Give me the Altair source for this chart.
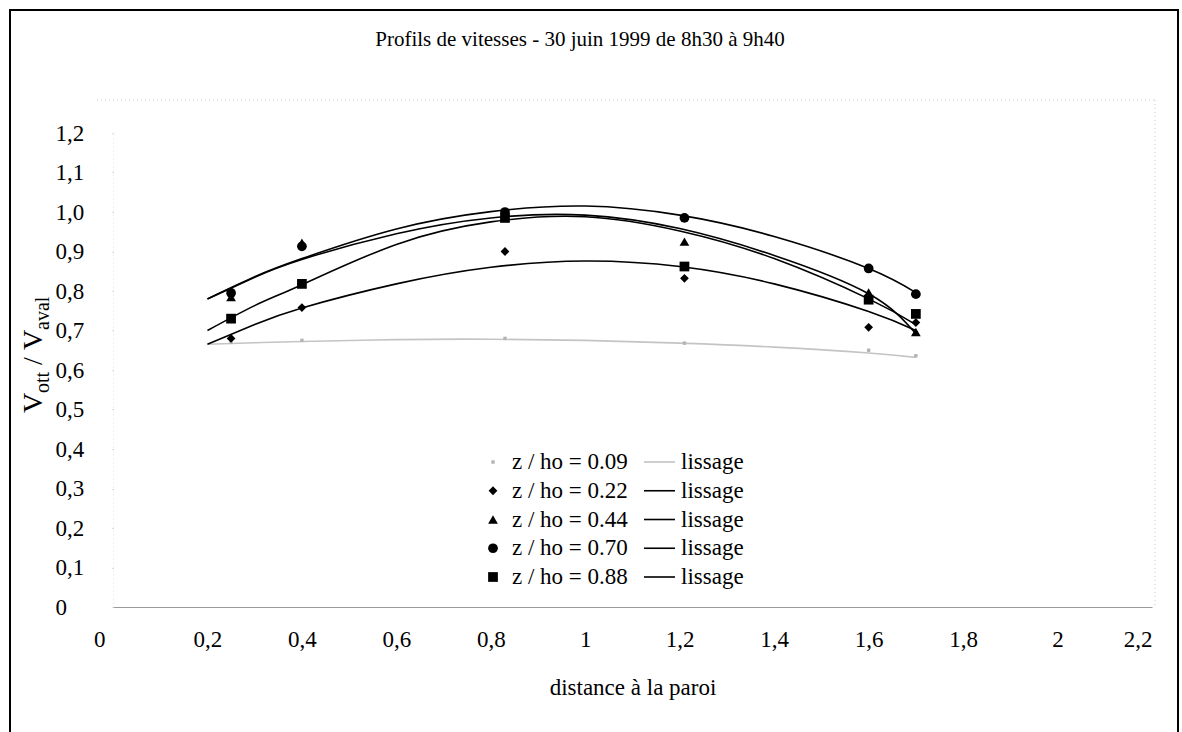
import altair as alt
import pandas as pd

# ---------------- data ----------------
x_vals = [0.25, 0.40, 0.83, 1.21, 1.60, 1.70]
series_names = ["z / ho = 0.09", "z / ho = 0.22", "z / ho = 0.44", "z / ho = 0.70", "z / ho = 0.88"]
v_009 = [0.670, 0.675, 0.680, 0.668, 0.650, 0.636]
v_022 = [0.680, 0.758, 0.900, 0.832, 0.708, 0.720]
v_044 = [0.785, 0.922, 0.990, 0.925, 0.796, 0.696]
v_070 = [0.795, 0.913, 1.000, 0.985, 0.857, 0.792]
v_088 = [0.730, 0.818, 0.985, 0.862, 0.778, 0.742]

# smoothing curves ("lissage")
curve_x = [0.2, 0.3, 0.4, 0.6, 0.8, 1.0, 1.2, 1.4, 1.6, 1.7]
c_009 = [0.665, 0.669, 0.672, 0.677, 0.678, 0.675, 0.668, 0.658, 0.643, 0.632]
c_022 = [0.665, 0.715, 0.757, 0.818, 0.860, 0.876, 0.862, 0.818, 0.748, 0.700]
c_044 = [0.780, 0.835, 0.880, 0.945, 0.985, 0.992, 0.958, 0.890, 0.793, 0.692]
c_070 = [0.780, 0.836, 0.882, 0.957, 1.001, 1.015, 0.992, 0.938, 0.857, 0.796]
c_088 = [0.700, 0.763, 0.816, 0.918, 0.975, 0.988, 0.952, 0.882, 0.780, 0.715]

x_ticks = [0, 0.2, 0.4, 0.6, 0.8, 1.0, 1.2, 1.4, 1.6, 1.8, 2.0, 2.2]
y_ticks = [0, 0.1, 0.2, 0.3, 0.4, 0.5, 0.6, 0.7, 0.8, 0.9, 1.0, 1.1, 1.2]
chart_title = ["Profils de vitesses - 30 juin 1999 de 8h30 à 9h40"]
x_title = "distance à la paroi"
fit_label = "lissage"

rows = []
for name, vals in zip(series_names, [v_009, v_022, v_044, v_070, v_088]):
    for xv, yv in zip(x_vals, vals):
        rows.append({"x": xv, "y": yv, "series": name})
df = pd.DataFrame(rows)

crows = []
for name, vals in zip(series_names, [c_009, c_022, c_044, c_070, c_088]):
    for xv, yv in zip(curve_x, vals):
        crows.append({"x": xv, "y": yv, "series": name})
cdf = pd.DataFrame(crows)

legend_df = pd.DataFrame({"series": series_names})

FONT = "Liberation Serif"
FS = 23
W, H = 1039, 474

shapes = ["M-0.35,-0.35L0.35,-0.35L0.35,0.35L-0.35,0.35Z",
          "M0,-0.9L0.9,0L0,0.9L-0.9,0Z",
          "triangle-up", "circle", "square"]
fills = ["#b4b4b4", "black", "black", "black", "black"]
strokes = ["#c4c4c4", "black", "black", "black", "black"]

xscale = alt.Scale(domain=[0, 2.2], nice=False, zero=False)
yscale = alt.Scale(domain=[0, 1.2], nice=False)
shape_scale = alt.Scale(domain=series_names, range=shapes)
fill_scale = alt.Scale(domain=series_names, range=fills)
stroke_scale = alt.Scale(domain=series_names, range=strokes)
legend_y = alt.Scale(type="point", domain=series_names, range=[329, 444], padding=0)

xaxis = alt.Axis(values=x_ticks, title=x_title, grid=False, ticks=False,
                 labelExpr="replace(format(datum.value, '~g'), '.', ',')",
                 labelAlign={"condition": {"test": "datum.value == 0 || datum.value > 2.1", "value": "right"},
                             "value": "center"},
                 labelOffset={"condition": {"test": "datum.value == 0", "value": -8}, "value": 0},
                 labelFont=FONT, labelFontSize=FS, labelColor="black", labelPadding=21,
                 titleFont=FONT, titleFontSize=FS, titleFontWeight="normal", titleColor="black",
                 titlePadding=25, domainColor="#9a9a9a", domainWidth=1.2, labelFlush=False)
yaxis = alt.Axis(values=y_ticks, title=None, grid=False, ticks=True, tickSize=3,
                 tickColor="#bdbdbd", tickDash=[1, 2],
                 labelExpr="datum.value == 0 ? '0' : replace(format(datum.value, '.1f'), '.', ',')",
                 labelFont=FONT, labelFontSize=FS, labelColor="black", labelAlign="left",
                 labelPadding=55, domainColor="#e0e0e0", domainDash=[1, 3])

lines = alt.Chart(cdf).mark_line(strokeWidth=1.6, interpolate="natural").encode(
    x=alt.X("x:Q", scale=xscale, axis=xaxis),
    y=alt.Y("y:Q", scale=yscale, axis=yaxis),
    stroke=alt.Stroke("series:N", scale=stroke_scale, legend=None),
    detail="series:N",
)

points = alt.Chart(df).mark_point(filled=True, size=95, opacity=1).encode(
    x=alt.X("x:Q", scale=xscale, axis=xaxis),
    y=alt.Y("y:Q", scale=yscale, axis=None),
    shape=alt.Shape("series:N", scale=shape_scale, legend=None),
    fill=alt.Fill("series:N", scale=fill_scale, legend=None),
)

# ---- legend drawn inside the plot ----
leg_base = alt.Chart(legend_df)
leg_sym = leg_base.mark_point(filled=True, size=95, opacity=1).encode(
    x=alt.value(380),
    y=alt.Y("series:N", scale=legend_y, axis=None),
    shape=alt.Shape("series:N", scale=shape_scale, legend=None),
    fill=alt.Fill("series:N", scale=fill_scale, legend=None),
)
leg_lab = leg_base.mark_text(font=FONT, fontSize=FS, align="left", baseline="middle", color="black").encode(
    x=alt.value(399),
    y=alt.Y("series:N", scale=legend_y, axis=None),
    text="series:N",
)
leg_line = leg_base.mark_rule(strokeWidth=1.6).encode(
    x=alt.value(531), x2=alt.value(562),
    y=alt.Y("series:N", scale=legend_y, axis=None),
    stroke=alt.Stroke("series:N", scale=stroke_scale, legend=None),
)
leg_fit = leg_base.mark_text(font=FONT, fontSize=FS, align="left", baseline="middle", color="black").encode(
    x=alt.value(568),
    y=alt.Y("series:N", scale=legend_y, axis=None),
    text=alt.value(fit_label),
)

# title
title = alt.Chart(pd.DataFrame({"t": chart_title})).mark_text(
    font=FONT, fontSize=21, align="center", baseline="middle", color="black"
).encode(text="t:N", x=alt.value(467), y=alt.value(-93))

# y axis title with subscripts: V_ott / V_aval
ytitle_parts = pd.DataFrame({
    "t": ["V", "ott", "/", "V", "aval"],
    "fs": [28, 20, 28, 28, 20],
    "px": [-71, -64, -71, -71, -64],
    "py": [280, 260, 232, 217, 197],
})
ytitle_layers = []
for _, r in ytitle_parts.iterrows():
    ytitle_layers.append(
        alt.Chart(pd.DataFrame({"t": [r["t"]]})).mark_text(
            font=FONT, fontSize=int(r["fs"]), angle=270, align="left",
            baseline="alphabetic", color="black"
        ).encode(text="t:N", x=alt.value(float(r["px"])), y=alt.value(float(r["py"])))
    )

# outer frame of the chart (left, top and right edges) and faint plot-area box
frame = alt.Chart(pd.DataFrame({"a": [0]})).mark_rect(
    filled=False, stroke="black", strokeWidth=2
).encode(x=alt.value(-103), x2=alt.value(1065), y=alt.value(-123), y2=alt.value(620))
plotbox = alt.Chart(pd.DataFrame({"a": [0]})).mark_rule(
    stroke="#c8c8c8", strokeWidth=1, strokeDash=[1, 3]
).encode(x=alt.value(1042), y=alt.value(-33), y2=alt.value(474))
plottop = alt.Chart(pd.DataFrame({"a": [0]})).mark_rule(
    stroke="#c8c8c8", strokeWidth=1, strokeDash=[1, 3]
).encode(x=alt.value(-16), x2=alt.value(1042), y=alt.value(-33))

chart = alt.layer(
    plotbox, plottop, lines, points, leg_line, leg_sym, leg_lab, leg_fit, title, *ytitle_layers, frame
).resolve_scale(y="independent").properties(
    width=W, height=H,
    autosize=alt.AutoSizeParams(type="none"),
    padding={"left": 113, "top": 133, "right": 30, "bottom": 125},
    view=alt.ViewBackground(stroke="transparent", strokeWidth=0),
).configure_view(stroke="transparent", strokeWidth=0).configure(background="white")

chart.save("out.html", embed_options={"renderer": "svg", "actions": False})
